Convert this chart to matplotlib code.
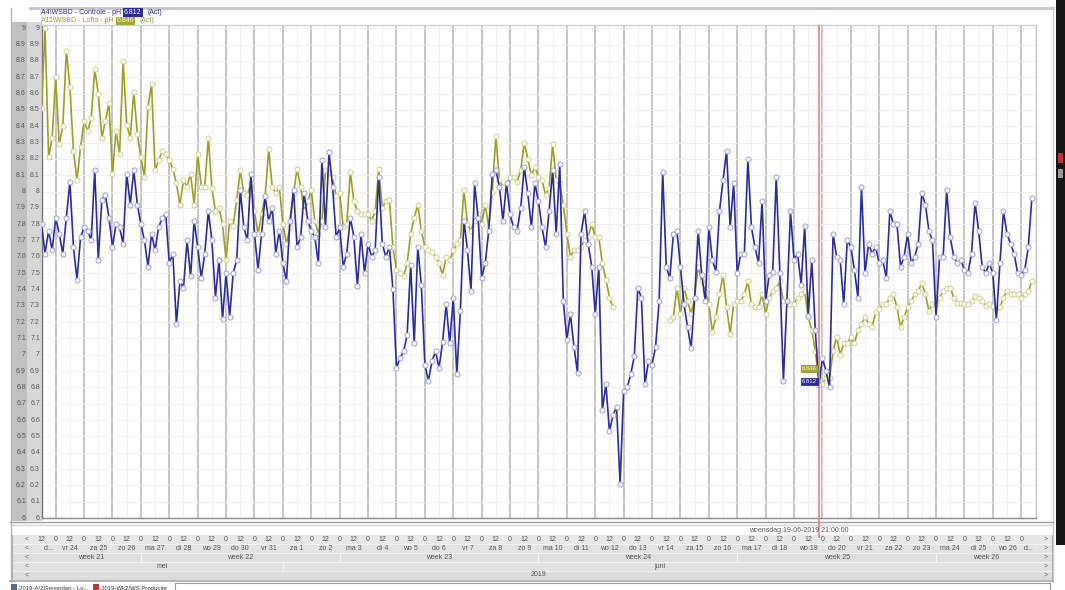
import numpy as np
import pandas as pd
import matplotlib
matplotlib.use("Agg")
import matplotlib.pyplot as plt
import matplotlib.dates as mdates
from matplotlib.transforms import blended_transform_factory as blend
from matplotlib.patches import Rectangle
from matplotlib.lines import Line2D

plt.rcParams['font.family'] = ['Liberation Sans', 'DejaVu Sans']

# ---------------- data: pH readings every 3 hours ----------------
series_start = '2019-05-23 12:00'
sample_step = '3h'

controle_ph = [
    7.80, 7.62, 7.76, 7.64,
    7.84, 7.74, 7.62, 7.84, 8.06, 7.66, 7.46, 7.72,
    7.78, 7.76, 7.70, 8.13, 7.58, 7.95, 7.98, 7.84,
    7.66, 7.80, 7.78, 7.68, 8.11, 7.92, 8.13, 7.92,
    7.80, 7.70, 7.54, 7.74, 7.64, 7.78, 7.84, 7.86,
    7.56, 7.62, 7.19, 7.45, 7.41, 7.70, 7.48, 7.82,
    7.66, 7.47, 7.62, 7.88, 7.70, 7.35, 7.58, 7.22,
    7.50, 7.23, 7.50, 7.58, 8.01, 7.78, 7.70, 8.11,
    7.74, 7.52, 7.74, 7.97, 7.82, 7.90, 7.62, 7.76,
    7.56, 7.45, 7.82, 8.01, 7.66, 7.72, 7.99, 7.82,
    7.76, 7.72, 7.56, 8.19, 7.78, 8.24, 8.03, 7.72,
    7.78, 7.54, 7.62, 7.84, 7.72, 7.42, 7.74, 7.50,
    7.68, 7.60, 7.64, 8.09, 7.68, 7.60, 7.66, 7.40,
    6.92, 6.98, 7.02, 7.12, 7.55, 7.07, 7.66, 7.43,
    6.94, 6.84, 6.96, 7.02, 6.92, 7.08, 7.31, 7.07,
    7.35, 6.88, 7.27, 7.82, 7.64, 7.39, 8.05, 7.84,
    7.47, 7.56, 7.76, 8.11, 8.13, 8.03, 7.82, 8.05,
    7.86, 7.78, 7.76, 7.90, 8.15, 7.99, 7.78, 8.05,
    7.94, 7.78, 7.66, 7.88, 8.13, 7.74, 8.17, 7.33,
    7.09, 7.25, 7.05, 6.89, 7.74, 7.88, 7.68, 7.54,
    7.25, 7.54, 6.66, 6.82, 6.53, 6.63, 6.68, 6.21,
    6.78, 6.80, 6.88, 6.99, 7.41, 7.35, 6.82, 6.96,
    6.94, 7.05, 7.33, 8.12, 7.54, 7.47, 7.74, 7.76,
    7.54, 7.31, 7.17, 7.04, 7.35, 7.76, 7.49, 7.33,
    7.78, 7.58, 7.51, 7.88, 8.07, 8.25, 7.78, 8.05,
    7.50, 7.62, 7.62, 8.20, 7.78, 7.66, 7.56, 7.94,
    7.33, 7.49, 7.51, 8.09, 7.50, 6.84, 7.33, 7.88,
    7.58, 7.62, 7.43, 7.79, 7.24, 7.58, 7.15, 6.812,
    6.98, 6.90, 6.80, 7.74, 7.60, 7.58, 7.31, 7.70,
    7.66, 7.52, 7.35, 8.03, 7.50, 7.68, 7.62, 7.66,
    7.56, 7.58, 7.47, 7.88, 7.80, 7.80, 7.54, 7.60,
    7.74, 7.56, 7.60, 7.68, 7.99, 7.92, 7.76, 7.70,
    7.23, 7.60, 7.60, 8.01, 7.72, 7.60, 7.56, 7.58,
    7.52, 7.50, 7.62, 7.93, 7.76, 7.54, 7.50, 7.56,
    7.50, 7.21, 7.56, 7.88, 7.74, 7.68, 7.62, 7.50,
    7.49, 7.52, 7.66, 7.96,
]

nan = float('nan')
lofta_ph = [
    8.51, 9.00, 8.21, 8.33,
    8.70, 8.29, 8.40, 8.86, 8.64, 8.25, 8.07, 8.27,
    8.43, 8.37, 8.45, 8.75, 8.60, 8.33, 8.43, 8.54,
    8.11, 8.37, 8.23, 8.80, 8.41, 8.33, 8.61, 8.35,
    8.21, 8.09, 8.52, 8.66, 8.13, 8.19, 8.25, 8.23,
    8.19, 8.14, 8.05, 7.92, 8.07, 8.03, 8.11, 7.92,
    8.23, 8.03, 8.03, 8.33, 8.02, 7.88, 7.90, 7.80,
    7.58, 7.82, 7.79, 7.95, 8.13, 7.99, 7.98, 8.05,
    7.88, 7.74, 7.86, 7.97, 8.26, 8.03, 7.99, 8.03,
    7.80, 7.68, 7.78, 7.99, 8.14, 8.03, 7.88, 7.94,
    8.01, 7.82, 7.74, 7.82, 8.13, 8.12, 8.09, 7.97,
    7.99, 7.78, 7.80, 8.12, 7.94, 7.88, 7.86, 7.86,
    7.86, 7.82, 7.88, 8.14, 7.90, 7.94, 7.95, 7.66,
    7.52, 7.50, 7.48, 7.56, 7.74, 7.84, 7.92, 7.76,
    7.66, 7.64, 7.63, 7.60, 7.56, 7.49, 7.60, 7.58,
    7.64, 7.68, 7.70, 8.01, 7.80, 7.76, 7.82, 7.86,
    7.80, 7.92, 7.78, 8.00, 8.34, 8.07, 8.03, 8.04,
    8.09, 8.09, 8.06, 8.13, 8.30, 8.20, 8.10, 8.15,
    8.09, 8.07, 7.98, 8.02, 8.29, 8.07, 8.05, 7.92,
    7.74, 7.60, 7.64, 7.64, 7.66, 7.70, 7.72, 7.80,
    7.72, 7.72, 7.56, 7.46, 7.35, 7.29, nan, nan,
    nan, nan, nan, nan, nan, nan, nan, nan,
    nan, nan, nan, nan, nan, 7.21, 7.23, 7.41,
    7.25, 7.41, 7.33, 7.25, 7.35, 7.54, 7.45, 7.39,
    7.31, 7.14, 7.23, 7.37, 7.49, 7.29, 7.13, 7.31,
    7.33, 7.33, 7.37, 7.45, 7.31, 7.29, 7.29, 7.37,
    7.25, 7.35, 7.39, 7.41, 7.45, 7.33, 7.33, 7.31,
    7.31, 7.35, 7.37, 7.39, 7.23, 7.15, 7.02, 6.846,
    6.82, 6.86, 6.86, 7.02, 7.11, 7.00, 7.07, 7.07,
    7.11, 7.07, 7.15, 7.19, 7.23, 7.19, 7.17, 7.26,
    7.28, 7.31, 7.31, 7.35, 7.37, 7.29, 7.17, 7.23,
    7.29, 7.33, 7.37, 7.39, 7.44, 7.37, 7.27, 7.31,
    7.31, 7.35, 7.39, 7.41, 7.41, 7.35, 7.32, 7.32,
    7.31, 7.31, 7.33, 7.36, 7.35, 7.33, 7.30, 7.31,
    7.30, 7.28, 7.29, 7.35, 7.39, 7.37, 7.37, 7.37,
    7.35, 7.37, 7.39, 7.45,
]

controle_name = 'A4\\WSBD - Controle - pH'
lofta_name = 'A11\\WSBD - Lofta - pH'
cursor_time = pd.Timestamp('2019-06-19 21:00')
cursor_caption = 'woensdag 19-06-2019 21:00:00'
ytick_values = [round(6.0 + 0.1 * i, 1) for i in range(31)]
day_abbr = ['ma', 'di', 'wo', 'do', 'vr', 'za', 'zo']
month_names = {5: 'mei', 6: 'juni'}
x_start = pd.Timestamp('2019-05-23 12:00')
x_end = pd.Timestamp('2019-06-27 12:30')

times = pd.date_range(series_start, periods=len(controle_ph), freq=sample_step)

# ---------------- figure in pixel units ----------------
W, H = 1065, 590
fig = plt.figure(figsize=(W / 100, H / 100), dpi=100)
fig.patch.set_facecolor('white')


def fx(px):
    return px / W


def fy(py):
    return 1 - py / H


def rect_px(x0, y0, x1, y1, z=-1, **kw):
    r = Rectangle((fx(x0), fy(y1)), fx(x1 - x0), (y1 - y0) / H,
                  transform=fig.transFigure, zorder=z, **kw)
    fig.add_artist(r)
    return r


def hline_px(x0, x1, y, **kw):
    fig.add_artist(Line2D([fx(x0), fx(x1)], [fy(y), fy(y)],
                          transform=fig.transFigure, **kw))


def vline_px(x, y0, y1, **kw):
    fig.add_artist(Line2D([fx(x), fx(x)], [fy(y0), fy(y1)],
                          transform=fig.transFigure, **kw))


PL, PR, PT, PB = 41.5, 1036, 25, 518

# window frame
hline_px(30, 1053, 7.5, color='#c4c4c4', lw=2.0)
vline_px(10.5, 8, 582, color='#b4b4b4', lw=1.0)
vline_px(1053, 8, 582, color='#c8c8c8', lw=1.0)

# y label columns
rect_px(11, 22, 27, 521, facecolor='#c0c0c0', edgecolor='none')
rect_px(27, 22, PL, 521, facecolor='#d8d8d8', edgecolor='none')

# right-hand dark strip
rect_px(1056, 0, 1065, 545, facecolor='#161616', edgecolor='none')
rect_px(1058, 153, 1063, 163, z=1, facecolor='#c83030', edgecolor='none')
rect_px(1058, 169, 1063, 178, z=1, facecolor='#9a9a9a', edgecolor='none')

# ---------------- main plot ----------------
ax = fig.add_axes([fx(PL), fy(PB), fx(PR - PL), (PB - PT) / H])
ax.set_facecolor('white')
ax.set_xlim(x_start, x_end)
ax.set_ylim(6.0, 9.02)

ax.xaxis.set_major_locator(mdates.DayLocator())
ax.xaxis.set_minor_locator(mdates.HourLocator(byhour=[12]))
ax.set_yticks(ytick_values)
ax.grid(which='major', axis='x', color='#c0c0c0', lw=1.3)
ax.grid(which='minor', axis='x', color='#f2f2f2', lw=0.8)
ax.grid(which='major', axis='y', color='#efefef', lw=0.6)
ax.set_axisbelow(True)
ax.tick_params(which='both', length=0, labelbottom=False, labelleft=False)
for side, col in [('left', '#7a7a7a'), ('bottom', '#8a8a8a'),
                  ('top', '#d0d0d0'), ('right', '#c8c8c8')]:
    ax.spines[side].set_color(col)
    ax.spines[side].set_linewidth(1.0)

ax.plot(times, lofta_ph, color='#9e9e2c', lw=1.2, marker='o', ms=3.6,
        mfc='white', mec='#cfcf8c', mew=0.7, zorder=3)
ax.plot(times, controle_ph, color='#2c2c9c', lw=1.2, marker='o', ms=3.6,
        mfc='white', mec='#9d9dda', mew=0.7, zorder=4)

ax.axvline(cursor_time, color='#e48080', lw=1.2, zorder=5)

# y labels in two columns
ytr = ax.get_yaxis_transform()
col1_x = (26 - PL) / (PR - PL)
col2_x = (40 - PL) / (PR - PL)
for v in ytick_values:
    s = f'{v:g}'
    for cx in (col1_x, col2_x):
        ax.text(cx, v, s, transform=ytr, ha='right', va='center',
                fontsize=5, color='#555555', clip_on=False, zorder=10)

# cursor value tags
ci = times.get_loc(cursor_time)
ax.annotate(f'{lofta_ph[ci]:.3f}', xy=(cursor_time, lofta_ph[ci]),
            xytext=(-1.5, 8.5), textcoords='offset points', ha='right',
            va='center', fontsize=4.3, color='#f4f4c8', zorder=6,
            bbox=dict(boxstyle='square,pad=0.18', fc='#a6a636', ec='#7c7c20', lw=0.5))
ax.annotate(f'{controle_ph[ci]:.3f}', xy=(cursor_time, controle_ph[ci]),
            xytext=(-1.5, 3.0), textcoords='offset points', ha='right',
            va='center', fontsize=4.3, color='white', zorder=6,
            bbox=dict(boxstyle='square,pad=0.18', fc='#2c2c9c', ec='#1c1c70', lw=0.5))

# ---------------- legend rows ----------------
renderer = fig.canvas.get_renderer()


def legend_row(y, name, value, fg, box_fg, box_bg):
    x = 41
    t = fig.text(fx(x), fy(y), name, color=fg, fontsize=5, ha='left', va='center')
    x += t.get_window_extent(renderer).width + 3
    t = fig.text(fx(x), fy(y), f'{value:.3f}', color=box_fg, fontsize=5,
                 ha='left', va='center',
                 bbox=dict(boxstyle='square,pad=0.12', fc=box_bg, ec='none'))
    x += t.get_window_extent(renderer).width + 6
    fig.text(fx(x), fy(y), '(Act)', color=fg, fontsize=5, ha='left', va='center')


legend_row(12.3, controle_name, controle_ph[ci], '#2a2a8e', 'white', '#2c2c9c')
legend_row(21.0, lofta_name, lofta_ph[ci], '#98982a', '#f4f4c8', '#a6a636')

# ---------------- time axis panel ----------------
hline_px(10, 1053, 522, color='#9a9a9a', lw=1.0)
hline_px(10, 1053, 525, color='#d4d4d4', lw=1.0)
row_edges = [535, 544, 553, 561.5, 570.5, 579.5]
row_colors = ['#e8e8e8', '#e3e3e3', '#dedede', '#e1e1e1', '#dcdcdc']
for (y0, y1), c in zip(zip(row_edges[:-1], row_edges[1:]), row_colors):
    rect_px(12, y0, 1052, y1, facecolor=c, edgecolor='none')
    hline_px(12, 1052, y1, color='#f6f6f6', lw=0.6)
    fig.text(fx(27), fy((y0 + y1) / 2), '<', fontsize=5, color='#666666',
             ha='center', va='center')
    fig.text(fx(1046), fy((y0 + y1) / 2), '>', fontsize=5, color='#666666',
             ha='center', va='center')
vline_px(12, 535, 580, color='#b0b0b0', lw=0.8)
vline_px(1052, 535, 580, color='#b0b0b0', lw=0.8)
hline_px(10, 1053, 581, color='#a8a8a8', lw=1.2)

xfig = blend(ax.transData, fig.transFigure)
row_mid = [(a + b) / 2 for a, b in zip(row_edges[:-1], row_edges[1:])]
label_kw = dict(fontsize=5, color='#555555', ha='center', va='center',
                transform=xfig)

# cursor caption and red marker through the caption row
fig.add_artist(Line2D([mdates.date2num(cursor_time)] * 2, [fy(PB), fy(537)],
                      transform=xfig, color='#e48080', lw=1.2))
fig.text(mdates.date2num(cursor_time) - 0.7, fy(530.5), cursor_caption,
         **label_kw)

# hours row
for t in pd.date_range(x_start, '2019-06-27 00:00', freq='12h'):
    fig.text(mdates.date2num(t), fy(row_mid[0]), '12' if t.hour == 12 else '0',
             **label_kw)


def span_label(lo, hi, text, y):
    a = max(lo, x_start)
    b = min(hi, x_end)
    mid = a + (b - a) / 2
    fig.text(mdates.date2num(mid), fy(y), text, **label_kw)


# day row
for d in pd.date_range('2019-05-23', '2019-06-27', freq='D'):
    full = d >= x_start and d + pd.Timedelta(days=1) <= x_end
    name = day_abbr[d.dayofweek]
    span_label(d, d + pd.Timedelta(days=1),
               f'{name} {d.day}' if full else f'{name[0]}...', row_mid[1])

# week row
for monday in pd.date_range('2019-05-20', '2019-06-24', freq='7D'):
    wk = monday.isocalendar()[1]
    span_label(monday, monday + pd.Timedelta(days=7), f'week {wk}', row_mid[2])
    if monday > x_start:
        fig.add_artist(Line2D([mdates.date2num(monday)] * 2,
                              [fy(row_edges[2]), fy(row_edges[3])],
                              transform=xfig, color='#f4f4f4', lw=0.8))

# month row
span_label(pd.Timestamp('2019-05-01'), pd.Timestamp('2019-06-01'), month_names[5], row_mid[3])
span_label(pd.Timestamp('2019-06-01'), pd.Timestamp('2019-07-01'), month_names[6], row_mid[3])
fig.add_artist(Line2D([mdates.date2num(pd.Timestamp('2019-06-01'))] * 2,
                      [fy(row_edges[3]), fy(row_edges[4])],
                      transform=xfig, color='#f4f4f4', lw=0.8))

# year row
span_label(x_start, x_end, '2019', row_mid[4])

# ---------------- task tabs along the bottom edge ----------------
rect_px(11, 584, 17, 590, z=1, facecolor='#5a6a8a', edgecolor='none')
fig.text(fx(19), fy(588), '2019-A/ZGevonden - Lo...', fontsize=4.3,
         color='#333333', ha='left', va='center')
rect_px(93, 584, 99, 590, z=1, facecolor='#b83a2a', edgecolor='none')
fig.text(fx(101), fy(588), '2019-Wk2/WS Productie', fontsize=4.3,
         color='#333333', ha='left', va='center')
rect_px(175, 583, 1050, 592, z=1, facecolor='white', edgecolor='#9a9a9a', lw=0.8)

fig.savefig('out.png', dpi=100)
